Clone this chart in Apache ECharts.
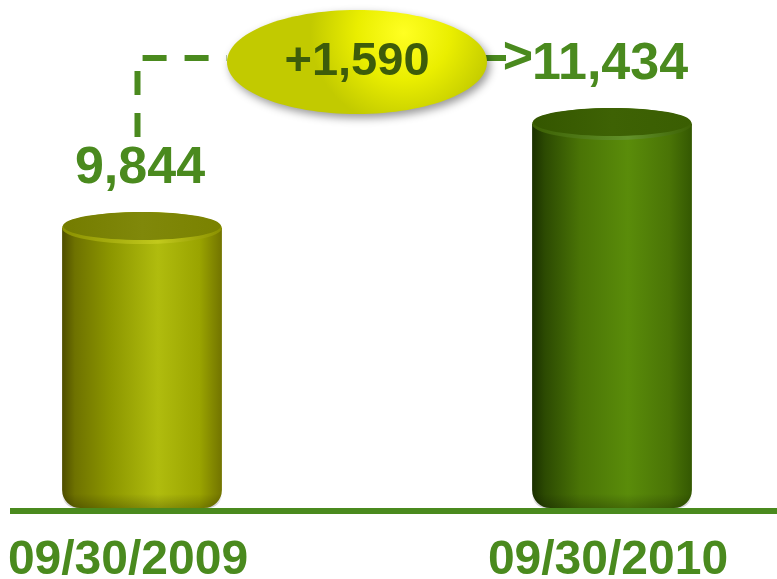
<!DOCTYPE html>
<html>
<head>
<meta charset="utf-8">
<script src="https://cdn.jsdelivr.net/npm/echarts@6/dist/echarts.min.js"></script>
<style>
  html, body { margin: 0; padding: 0; background: #fff; }
  #main { width: 777px; height: 579px; }
</style>
</head>
<body>
<div id="main"></div>
<script>
// data
const categories = ['09/30/2009', '09/30/2010']
const totals = [9844, 11434]
const yMin = 5560
const yMax = 13330

const green = '#4a8a1e'
const font = '"Liberation Sans", Arial, sans-serif'

// cylinder colours, one per bar
const palettes = [
    {
        body: ['#4e4e00', '#6e7200', '#8c9600', '#b0bc0e', '#9aa400', '#727400'],
        top: ['#747c00', '#80880a', '#7a8200'],
        rim: ['#8a9000', '#c2ca1c', '#8a9000']
    },
    {
        body: ['#1a3000', '#2c4a02', '#4a7406', '#5a8c0a', '#4a7406', '#345802'],
        top: ['#345600', '#3e6204', '#3a5e02'],
        rim: ['#3c6004', '#62922a', '#3c6004']
    }
]

const fmt = v => v.toLocaleString('en-US')

const hGrad = (cols, stops) => new echarts.graphic.LinearGradient(0, 0, 1, 0,
    cols.map((c, i) => ({ offset: stops[i], color: c })))

function renderItem(params, api) {
    const idx = api.value(0)
    const val = api.value(1)
    const top = api.coord([idx, val])
    const base = api.coord([idx, yMin])
    const w = api.size([1, 0])[0] * 0.34
    const rx = w / 2
    const ry = 16
    const pal = palettes[params.dataIndex]
    return {
        type: 'group',
        children: [
            {
                type: 'rect',
                shape: { x: top[0] - rx, y: top[1], width: w, height: base[1] - top[1], r: [0, 0, 18, 18] },
                style: { fill: hGrad(pal.body, [0, 0.08, 0.3, 0.6, 0.86, 1]) }
            },
            {
                type: 'rect',
                shape: { x: top[0] - rx, y: base[1] - 14, width: w, height: 14, r: [0, 0, 18, 18] },
                style: {
                    fill: new echarts.graphic.LinearGradient(0, 0, 0, 1, [
                        { offset: 0, color: 'rgba(0,0,0,0)' },
                        { offset: 1, color: 'rgba(0,0,0,0.22)' }
                    ])
                }
            },
            {
                type: 'ellipse',
                shape: { cx: top[0], cy: top[1], rx: rx, ry: ry },
                style: { fill: hGrad(pal.rim, [0, 0.6, 1]) }
            },
            {
                type: 'ellipse',
                shape: { cx: top[0], cy: top[1] - 2, rx: rx - 1, ry: ry - 2 },
                style: { fill: hGrad(pal.top, [0, 0.5, 1]) }
            },
            {
                type: 'text',
                style: {
                    text: fmt(val), x: top[0] - 2, y: top[1] - 59,
                    align: 'center', verticalAlign: 'middle',
                    font: 'bold 52px ' + font, fill: green
                }
            }
        ]
    }
}

const chart = echarts.init(document.getElementById('main'), null, { renderer: 'canvas' })

const option = {
    animation: false,
    grid: { left: 142, right: 165, top: 0, bottom: 71, outerBoundsMode: 'none' },
    xAxis: {
        type: 'category',
        data: categories,
        boundaryGap: false,
        axisLine: { show: false },
        axisTick: { show: false },
        axisLabel: {
            margin: 29,
            color: green,
            fontFamily: font,
            fontWeight: 'bold',
            fontSize: 48,
            formatter: (v, i) => i === 0 ? '{a|' + v + '}' : '{b|' + v + '}',
            rich: {
                a: { color: green, fontFamily: font, fontWeight: 'bold', fontSize: 48, padding: [0, 28, 0, 0] },
                b: { color: green, fontFamily: font, fontWeight: 'bold', fontSize: 48, padding: [0, 8, 0, 0] }
            }
        }
    },
    yAxis: {
        type: 'value',
        min: yMin,
        max: yMax,
        show: false,
        splitLine: { show: false }
    },
    series: [
        {
            type: 'custom',
            renderItem: renderItem,
            data: totals.map((v, i) => [i, v]),
            z: 3
        }
    ]
}
chart.setOption(option)

// annotation: change between the two dates
const p0 = chart.convertToPixel({ seriesIndex: 0 }, [0, totals[0]])
const baseY = chart.convertToPixel({ yAxisIndex: 0 }, yMin)
const lblY = p0[1] - 61
const bubble = { cx: 357, cy: 62, rx: 130, ry: 52 }
const arrowY = 58

chart.setOption({
    graphic: [
        {
            type: 'line', z: 1,
            shape: { x1: 10, y1: baseY + 3, x2: 777, y2: baseY + 3 },
            style: { stroke: green, lineWidth: 6 }
        },
        {
            type: 'polyline', z: 2,
            shape: { points: [[p0[0] - 4.5, lblY - 30], [p0[0] - 4.5, arrowY], [bubble.cx - bubble.rx, arrowY]] },
            style: { stroke: green, lineWidth: 6, fill: null, lineDash: [24, 18] }
        },
        {
            type: 'line', z: 2,
            shape: { x1: bubble.cx + bubble.rx - 4, y1: arrowY, x2: 506, y2: arrowY },
            style: { stroke: green, lineWidth: 6 }
        },
        {
            type: 'text', z: 4,
            style: {
                text: '>', x: 533, y: arrowY + 1, align: 'right', verticalAlign: 'middle',
                font: 'bold 52px ' + font, fill: green
            }
        },
        {
            type: 'ellipse', z: 5,
            shape: bubble,
            style: {
                fill: new echarts.graphic.RadialGradient(0.68, 0.22, 0.9, [
                    { offset: 0, color: '#ffff22' },
                    { offset: 0.5, color: '#eaee00' },
                    { offset: 1, color: '#c2ca00' }
                ]),
                shadowBlur: 8,
                shadowColor: 'rgba(0,0,0,0.4)',
                shadowOffsetX: 3,
                shadowOffsetY: 4
            }
        },
        {
            type: 'text', z: 6,
            style: {
                text: '+' + fmt(totals[1] - totals[0]),
                x: bubble.cx, y: bubble.cy, align: 'center', verticalAlign: 'middle',
                font: 'bold 47px ' + font, fill: '#3d5c0a'
            }
        }
    ]
})
</script>
</body>
</html>
